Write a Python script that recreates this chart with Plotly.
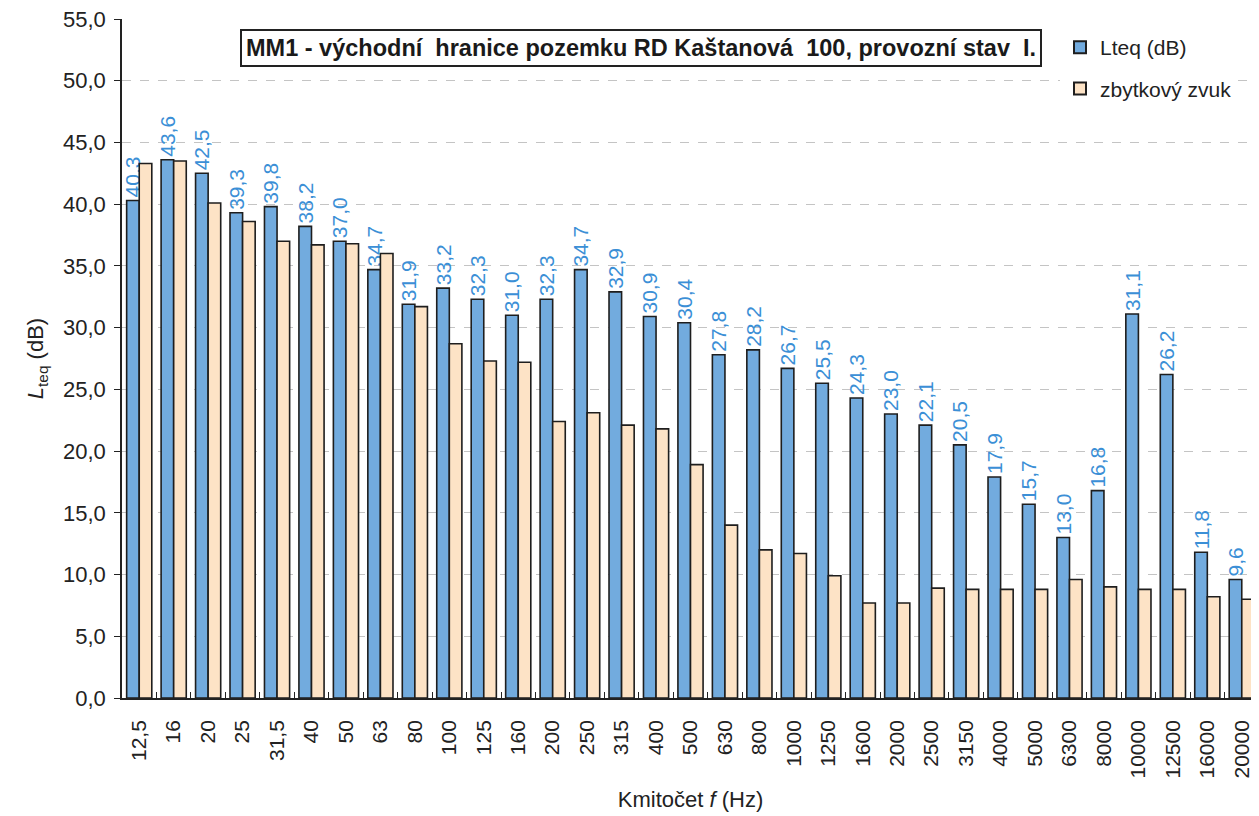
import plotly.graph_objects as go

categories = ["12,5", "16", "20", "25", "31,5", "40", "50", "63", "80", "100", "125", "160",
              "200", "250", "315", "400", "500", "630", "800", "1000", "1250", "1600", "2000",
              "2500", "3150", "4000", "5000", "6300", "8000", "10000", "12500", "16000", "20000"]

lteq = [40.3, 43.6, 42.5, 39.3, 39.8, 38.2, 37.0, 34.7, 31.9, 33.2, 32.3, 31.0, 32.3, 34.7,
        32.9, 30.9, 30.4, 27.8, 28.2, 26.7, 25.5, 24.3, 23.0, 22.1, 20.5, 17.9, 15.7, 13.0,
        16.8, 31.1, 26.2, 11.8, 9.6]

residual = [43.3, 43.5, 40.1, 38.6, 37.0, 36.7, 36.8, 36.0, 31.7, 28.7, 27.3, 27.2, 22.4, 23.1,
            22.1, 21.8, 18.9, 14.0, 12.0, 11.7, 9.9, 7.7, 7.7, 8.9, 8.8, 8.8, 8.8, 9.6, 9.0,
            8.8, 8.8, 8.2, 8.0]

y_ticks = [0, 5, 10, 15, 20, 25, 30, 35, 40, 45, 50, 55]
y_tick_labels = [("%.1f" % v).replace(".", ",") for v in y_ticks]
lteq_labels = [("%.1f" % v).replace(".", ",") + "\u00a0" for v in lteq]

FONT = "Liberation Sans, Arial, sans-serif"
TXT = "#222222"

# page body has an 8px margin: figure is drawn at (8, 8)
W, H = 1251, 808
L, T, B = 114, 11, 118
PH = H - T - B
PW = W - L

fig = go.Figure()
fig.add_trace(go.Bar(
    x=categories, y=lteq, name="Lteq (dB)", legendgroup="a",
    marker=dict(color="#72abde", line=dict(color="#1e1e1e", width=1.6)),
    text=lteq_labels, textposition="outside", textangle=-90,
    constraintext="none", cliponaxis=False,
    textfont=dict(family=FONT, size=21, color="#3b8fd6"),
))
fig.add_trace(go.Bar(
    x=categories, y=residual, name="zbytkový zvuk", legendgroup="b",
    marker=dict(color="#fde3c6", line=dict(color="#1e1e1e", width=1.6)),
))

fig.update_layout(
    width=W, height=H,
    margin=dict(l=L, r=0, t=T, b=B, autoexpand=False),
    paper_bgcolor="white", plot_bgcolor="white",
    barmode="group", bargap=0.27, bargroupgap=0.0,
    font=dict(family=FONT, size=20, color=TXT),
    showlegend=True,
    legend=dict(x=(1052 - L) / PW, y=1 - (19 - T) / PH, xanchor="left", yanchor="top",
                bgcolor="white", borderwidth=0,
                font=dict(family=FONT, size=21, color=TXT),
                itemsizing="constant", tracegroupgap=11),
    xaxis=dict(
        type="category", tickangle=-90, showgrid=False, automargin=False,
        ticks="inside", tickson="boundaries", ticklen=6, tickcolor="#222",
        ticklabelstandoff=12,
        showline=True, linecolor="#222", linewidth=1.5,
        tickfont=dict(family=FONT, size=21, color=TXT),
        title=dict(text="Kmitočet <i>f</i> (Hz)", font=dict(family=FONT, size=22, color=TXT),
                   standoff=14),
    ),
    yaxis=dict(
        range=[0, 55], tickvals=y_ticks, ticktext=y_tick_labels, automargin=False,
        ticks="outside", ticklen=6, tickcolor="#222", ticklabelstandoff=4,
        ticklabeloverflow="allow",
        showline=True, linecolor="#222", linewidth=1.5,
        showgrid=True, gridcolor="#c4c4c4", griddash="dash", gridwidth=1,
        tickfont=dict(family=FONT, size=22, color=TXT),
        title=dict(text="<i>L</i><sub>teq</sub> (dB)", font=dict(family=FONT, size=22, color=TXT),
                   standoff=13),
        zeroline=False,
    ),
)

fig.add_annotation(
    xref="paper", yref="paper", x=(633 - L) / PW, y=1 - (40 - T) / PH,
    text="<b>MM1 - východní  hranice pozemku RD Kaštanová  100, provozní stav  I.</b>",
    showarrow=False, xanchor="center", yanchor="middle",
    font=dict(family=FONT, size=23.5, color="#1a1a1a"),
    bgcolor="white", bordercolor="#222", borderwidth=2, borderpad=4,
)

fig.write_html("out.html")
